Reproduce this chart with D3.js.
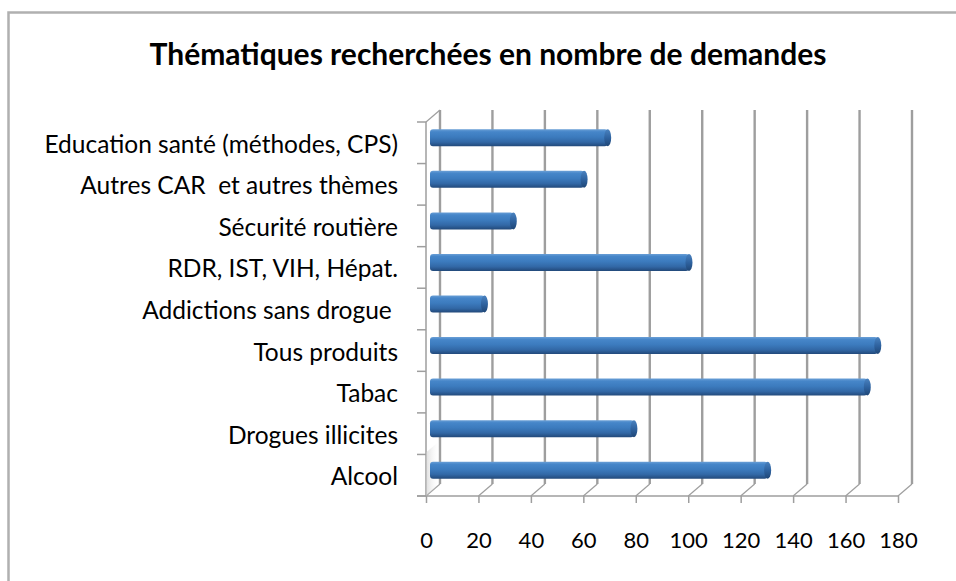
<!DOCTYPE html>
<html>
<head>
<meta charset="utf-8">
<script src="https://cdn.jsdelivr.net/npm/d3@7"></script>
<style>
  body { margin: 0; background: #fff; }
  text { font-family: Lato, "Open Sans", sans-serif; fill: #000; }
</style>
</head>
<body>
<div id="chart"></div>
<script>
const WIDTH = 956, HEIGHT = 581;
// depth of the 3D box (back wall offset)
const DX = 14, DY = -12;

// data, top row first
const categories = [
    "Education santé (méthodes, CPS)",
    "Autres CAR  et autres thèmes",
    "Sécurité routière",
    "RDR, IST, VIH, Hépat.",
    "Addictions sans drogue ",
    "Tous produits",
    "Tabac",
    "Drogues illicites",
    "Alcool"
];
const values = [67, 58, 31, 98, 20, 170, 166, 77, 128];
const xTicks = [0, 20, 40, 60, 80, 100, 120, 140, 160, 180];
const title = "Thématiques recherchées en nombre de demandes";

const svg = d3.select('#chart')
    .append('svg')
    .attr('width', WIDTH)
    .attr('height', HEIGHT);

// chart frame
svg.append('rect')
    .attr('x', 8.5).attr('y', 12.5)
    .attr('width', 960).attr('height', 600)
    .attr('fill', '#fff')
    .attr('stroke', '#b0b0b0')
    .attr('stroke-width', 2.5);

svg.append('text')
    .attr('x', 488).attr('y', 65)
    .attr('text-anchor', 'middle')
    .style('font-size', '30px')
    .style('font-weight', 'bold')
    .text(title);

const x = d3.scaleLinear().domain([0, 180]).range([426, 898]);
const y = d3.scaleBand().domain(categories).range([122, 496]);
const [yTop, yBot] = y.range();

// gradients for the cylinder bars
const defs = svg.append('defs');
const grad = defs.append('linearGradient').attr('id', 'barGrad')
    .attr('x1', 0).attr('y1', 0).attr('x2', 0).attr('y2', 1);
[[0, '#6a9fd6'], [0.15, '#4686c9'], [0.45, '#3c7bbe'], [0.75, '#3268a6'], [1, '#22497a']]
    .forEach(s => grad.append('stop').attr('offset', s[0]).attr('stop-color', s[1]));
const capGrad = defs.append('linearGradient').attr('id', 'capGrad')
    .attr('x1', 0).attr('y1', 0).attr('x2', 0).attr('y2', 1);
[[0, '#4a82bf'], [0.5, '#2f63a0'], [1, '#1f4676']]
    .forEach(s => capGrad.append('stop').attr('offset', s[0]).attr('stop-color', s[1]));
const wallGrad = defs.append('linearGradient').attr('id', 'wallGrad')
    .attr('x1', 0).attr('y1', 0).attr('x2', 1).attr('y2', 0);
wallGrad.append('stop').attr('offset', 0).attr('stop-color', '#c8c8c8');
wallGrad.append('stop').attr('offset', 1).attr('stop-color', '#ffffff').attr('stop-opacity', 0);

const grid = svg.append('g').attr('stroke', '#9e9e9e');

// back wall gridlines
grid.selectAll('line.back')
    .data(xTicks)
    .enter()
    .append('line')
    .attr('class', 'back')
    .attr('x1', d => x(d) + DX).attr('x2', d => x(d) + DX)
    .attr('y1', yTop + DY).attr('y2', yBot + DY)
    .attr('stroke-width', 2.4);

// floor diagonals
grid.selectAll('line.floor')
    .data(xTicks)
    .enter()
    .append('line')
    .attr('class', 'floor')
    .attr('x1', d => x(d)).attr('y1', yBot)
    .attr('x2', d => x(d) + DX).attr('y2', yBot + DY)
    .attr('stroke-width', 1.2);

// small shadow on the left wall near the floor
svg.append('path')
    .attr('d', `M${x(0)},${y('Alcool') - 2} L${x(0) + DX},${y('Alcool') - 2 + DY} L${x(0) + DX},${yBot + DY} L${x(0)},${yBot} Z`)
    .attr('fill', 'url(#wallGrad)')
    .attr('opacity', 0.6);

// left wall
grid.append('line')
    .attr('x1', x(0)).attr('x2', x(0))
    .attr('y1', yTop).attr('y2', yBot)
    .attr('stroke-width', 1.5);
grid.append('line')
    .attr('x1', x(0)).attr('y1', yTop)
    .attr('x2', x(0) + DX).attr('y2', yTop + DY)
    .attr('stroke-width', 1.2);

const boundaries = categories.map(c => y(c)).concat([yBot]);
grid.selectAll('line.ytick')
    .data(boundaries)
    .enter()
    .append('line')
    .attr('class', 'ytick')
    .attr('x1', x(0) - 9).attr('x2', x(0))
    .attr('y1', d => d).attr('y2', d => d)
    .attr('stroke-width', 1.5);

// front x axis
const xAxis = svg.append('g')
    .attr('transform', `translate(0, ${yBot})`)
    .call(d3.axisBottom(x).tickValues(xTicks).tickSize(7).tickSizeOuter(0));
xAxis.select('.domain').remove();
xAxis.selectAll('.tick line').attr('stroke', '#9e9e9e').attr('stroke-width', 1.5);
xAxis.selectAll('.tick text')
    .attr('y', 52).attr('dy', 0)
    .style('font-size', '22px')
    .style('font-family', 'Lato, "Open Sans", sans-serif')
    .attr('fill', '#000');
grid.append('line')
    .attr('x1', x(0) - 9).attr('x2', x(180))
    .attr('y1', yBot).attr('y2', yBot)
    .attr('stroke-width', 1.5);

// category labels
svg.append('g')
    .selectAll('text')
    .data(categories)
    .enter()
    .append('text')
    .attr('x', 398)
    .attr('y', d => y(d) + y.bandwidth() / 2 + 10)
    .attr('text-anchor', 'end')
    .style('font-size', '24.5px')
    .style('white-space', 'pre')
    .text(d => d);

// bars (cylinders)
const BAR_H = 17;
const barData = categories.map((c, i) => ({ cat: c, value: values[i] }));
const bars = svg.append('g')
    .selectAll('g')
    .data(barData)
    .enter()
    .append('g')
    .attr('transform', d => `translate(0, ${y(d.cat) + y.bandwidth() / 2 - 5 - BAR_H / 2})`);

bars.append('rect')
    .attr('x', x(0) + 4)
    .attr('width', d => x(d.value) - x(0) + 2)
    .attr('height', BAR_H)
    .attr('rx', 3).attr('ry', 3)
    .attr('fill', 'url(#barGrad)');

bars.append('ellipse')
    .attr('cx', d => x(d.value) + 6)
    .attr('cy', BAR_H / 2)
    .attr('rx', 3.5)
    .attr('ry', BAR_H / 2)
    .attr('fill', 'url(#capGrad)');
</script>
</body>
</html>
